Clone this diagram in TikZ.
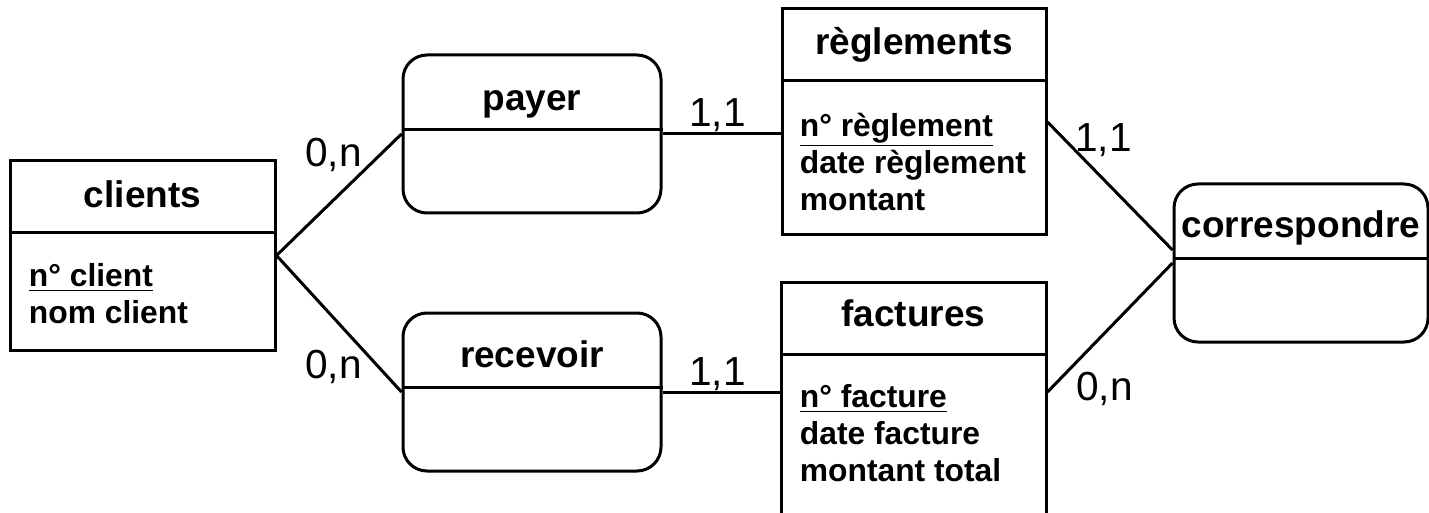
\documentclass[tikz,border=0pt]{standalone}
\usepackage{fontspec}
\setmainfont{Liberation Sans}
\usetikzlibrary{positioning, calc}

\begin{document}
\begin{tikzpicture}[x=0.5pt, y=-0.5pt,
    entity/.style={draw, line width=1.5pt, inner sep=0pt},
    assoc/.style={draw, line width=1.5pt, rounded corners=12pt, minimum height=79pt, inner sep=0pt},
    title/.style={font=\fontsize{18.5}{22}\selectfont\bfseries, inner sep=0pt, anchor=base},
    attr/.style={font=\fontsize{15.9}{18.5}\selectfont\bfseries, align=left, anchor=north west, inner sep=0pt},
    card/.style={font=\fontsize{20.3}{22}\selectfont, inner sep=0pt, anchor=base west},
    link/.style={line width=1.5pt}
]
    \useasboundingbox (0,0) rectangle (1429,513);

    \node[entity, minimum width=132.5pt, minimum height=94.5pt] (clients) at (142.5,255.5) {};
    \node[entity, minimum width=132pt, minimum height=113pt] (reglements) at (914,122) {};
    \node[entity, minimum width=132.5pt, minimum height=121pt] (factures) at (913.5,404) {};
    \node[assoc, minimum width=129pt] (payer) at (532,134) {};
    \node[assoc, minimum width=129pt] (recevoir) at (532,392) {};
    \node[assoc, minimum width=127pt] (corr) at (1301,263) {};

    \foreach \e in {clients, reglements, factures}
        \draw[link] ([yshift=-36.5pt]\e.north west) -- ([yshift=-36.5pt]\e.north east);
    \foreach \a in {payer, recevoir, corr}
        \draw[link] ([yshift=-38pt]\a.north west) -- ([yshift=-38pt]\a.north east);

    \node[title] (clientst) at ([yshift=-24pt]clients.north) {clients};
    \node[title] (reglementst) at ([yshift=-23.5pt]reglements.north) {règlements};
    \node[title] (facturest) at ([yshift=-22.5pt]factures.north) {factures};
    \node[title] (payert) at ([yshift=-28.5pt]payer.north) {payer};
    \node[title] (recevoirt) at ([yshift=-28pt]recevoir.north) {recevoir};
    \node[title] (corrt) at ([yshift=-27.5pt]corr.north) {correspondre};

    \node[attr] (clientsa) at ([xshift=10pt, yshift=-52pt]clients.north west) {\underline{n° client}\\nom client};
    \node[attr] (reglementsa) at ([xshift=9.5pt, yshift=-52.5pt]reglements.north west) {\underline{n° règlement}\\date règlement\\montant};
    \node[attr] (facturesa) at ([xshift=10pt, yshift=-51.5pt]factures.north west) {\underline{n° facture}\\date facture\\montant total};

    \draw[link] (clients.east) -- (payer.west);
    \draw[link] (clients.east) -- (recevoir.west);
    \draw[link] (payer.east) -- (payer.east -| reglements.west);
    \draw[link] (recevoir.east) -- (recevoir.east -| factures.west);
    \draw[link] (reglements.east) -- ([yshift=6.5pt]corr.west);
    \draw[link] (recevoir.east -| factures.east) -- (corr.west);

    \node[card] (c1) at (305,167) {0,n};
    \node[card] (c2) at (305,378) {0,n};
    \node[card] (c3) at (689,127) {1,1};
    \node[card] (c4) at (689,385) {1,1};
    \node[card] (c5) at (1075,152) {1,1};
    \node[card] (c6) at (1076,400) {0,n};
\end{tikzpicture}
\end{document}
